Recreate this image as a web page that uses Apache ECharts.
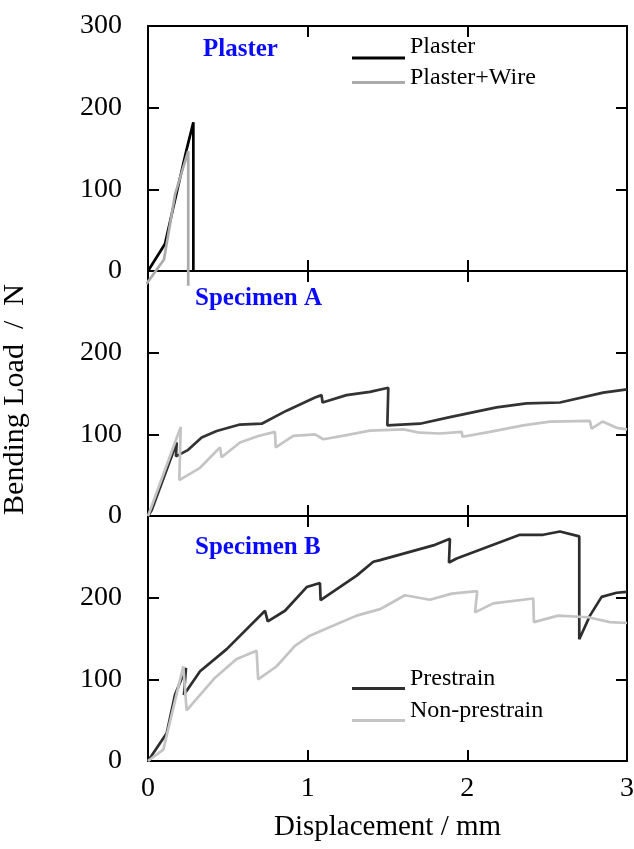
<!DOCTYPE html>
<html>
<head>
<meta charset="utf-8">
<script src="https://cdn.jsdelivr.net/npm/echarts@6/dist/echarts.min.js"></script>
<style>html,body{margin:0;padding:0;background:#fff}#c{width:634px;height:849px}</style>
</head>
<body>
<div id="c"></div>
<script>
// ---- data (x: displacement mm, y: bending load N) ----
const xTicks = [0, 1, 2, 3];
const yTicks = [0, 100, 200, 300];
const panelTitles = ['Plaster', 'Specimen A', 'Specimen B'];

const plaster = [[0,0],[0.106,33],[0.242,149],[0.284,182],[0.284,0]];
const plasterWire = [[-0.01,-16],[0.1,14],[0.17,94],[0.252,147],[0.252,-18]];

const specA_pre = [[0,0],[0.023,7],[0.18,90],[0.175,73],[0.252,81],[0.336,96],[0.43,104],[0.576,112],[0.712,113],[0.868,129],[1.046,145],[1.087,148],[1.093,139],[1.243,148],[1.39,152],[1.505,157],[1.499,111],[1.703,113],[1.891,121],[2.183,133],[2.371,138],[2.58,139],[2.851,151],[3.0,155]];
const specA_non = [[0,0],[0.205,109],[0.196,44],[0.326,59],[0.451,84],[0.461,72],[0.576,90],[0.691,98],[0.795,103],[0.8,84],[0.91,98],[1.046,100],[1.098,94],[1.244,99],[1.39,104.6],[1.599,106],[1.703,102],[1.828,101],[1.964,103],[1.97,97],[2.141,103],[2.35,111],[2.517,115.6],[2.768,116.4],[2.778,107],[2.847,115.6],[2.935,108],[3.0,106]];

const specB_pre = [[0,0],[0.117,34],[0.169,81],[0.238,114],[0.225,81],[0.326,110],[0.493,137],[0.733,184],[0.75,171],[0.858,184],[0.994,213],[1.077,218],[1.081,197],[1.307,227],[1.411,244],[1.453,246],[1.787,264],[1.891,272],[1.885,243],[1.933,248],[2.329,277],[2.475,277],[2.58,281],[2.701,275],[2.701,149],[2.768,178],[2.841,201],[2.935,206],[3.0,207]];
const specB_non = [[0,0],[0.096,14],[0.221,116],[0.242,62],[0.42,102],[0.555,125],[0.68,135],[0.69,100],[0.806,116],[0.92,141],[1.014,153.5],[1.14,164],[1.307,178],[1.453,186],[1.473,188],[1.609,203],[1.766,197.5],[1.902,205],[2.062,208],[2.048,182],[2.162,193],[2.413,199],[2.417,170],[2.569,178],[2.757,176],[2.893,170],[3.0,169]];

// ---- layout ----
const FONT = 'Liberation Serif';
const grids = [
  {left:148, right:7, top:26, height:245, outerBoundsMode:'none', containLabel:false},
  {left:148, right:7, top:271, height:245, outerBoundsMode:'none', containLabel:false},
  {left:148, right:7, top:516, height:245, outerBoundsMode:'none', containLabel:false}
];
const axLine = {show:true, onZero:false, lineStyle:{color:'#000', width:2}};
const axTick = {show:true, inside:true, length:11, lineStyle:{color:'#000', width:2}};

const xAxes = [], yAxes = [];
grids.forEach((g, i) => {
  const isBottom = i === 2;
  xAxes.push({
    type:'value', gridIndex:i, position:'bottom', min:xTicks[0], max:xTicks[xTicks.length-1], interval:1,
    axisLine:axLine, axisTick:axTick, splitLine:{show:false},
    axisLabel:{show:isBottom, fontFamily:FONT, fontSize:28, color:'#000', margin:14},
    name: isBottom ? 'Displacement / mm' : '', nameLocation:'middle', nameGap:52,
    nameTextStyle:{fontFamily:FONT, fontSize:29, color:'#000'}
  });
  xAxes.push({
    type:'value', gridIndex:i, position:'top', min:0, max:3, interval:1,
    axisLine:axLine, axisTick:axTick, splitLine:{show:false}, axisLabel:{show:false}
  });
  yAxes.push({
    type:'value', gridIndex:i, position:'left', min:yTicks[0], max:yTicks[yTicks.length-1], interval:100,
    axisLine:axLine, axisTick:axTick, splitLine:{show:false},
    axisLabel:{fontFamily:FONT, fontSize:28, color:'#000', margin:26, showMaxLabel: i === 0},
    name: i === 1 ? 'Bending Load  /  N' : '', nameLocation:'middle', nameGap:118,
    nameTextStyle:{fontFamily:FONT, fontSize:30, color:'#000', padding:[0,12,0,0]}
  });
  yAxes.push({
    type:'value', gridIndex:i, position:'right', min:0, max:300, interval:100,
    axisLine:axLine, axisTick:axTick, splitLine:{show:false}, axisLabel:{show:false}
  });
});

function mk(name, data, gi, color, clip) {
  return {
    name, type:'line', data, xAxisIndex:gi*2, yAxisIndex:gi*2, showSymbol:false, symbol:'none',
    clip: clip, animation:false,
    lineStyle:{color, width:2.7}, itemStyle:{color}
  };
}
const series = [
  mk('Plaster', plaster, 0, '#000000', true),
  mk('Plaster+Wire', plasterWire, 0, '#ababab', false),
  mk('Specimen A prestrain', specA_pre, 1, '#333333', true),
  mk('Specimen A non-prestrain', specA_non, 1, '#c4c4c4', true),
  mk('Prestrain', specB_pre, 2, '#2e2e2e', true),
  mk('Non-prestrain', specB_non, 2, '#c4c4c4', true)
];

// legend item: line drawn at bottom of an icon box so the label sits above-right of it
function leg(name, lineY, d) {
  const H = 2 * d + 3;
  const textHalf = 13.5;
  const shift = Math.max(0, textHalf - H / 2);
  return {
    data:[name], left:352, top:lineY - (H - 1.5) - shift, padding:0, itemGap:0, itemWidth:53, itemHeight:H,
    icon:'path://M0,0M0,' + (H - 3) + 'L53,' + (H - 3) + 'L53,' + H + 'L0,' + H + 'Z',
    selectedMode:false,
    textStyle:{fontFamily:FONT, fontSize:24, color:'#000'}
  };
}

const titlePos = [[203,49],[195,298],[195,547]];
const graphic = panelTitles.map((t, i) => ({
  type:'text', left:titlePos[i][0], top:titlePos[i][1]-12,
  style:{text:t, font:'bold 25px "' + FONT + '"', fill:'#0a0aff'}
}));

const chart = echarts.init(document.getElementById('c'), null, {renderer:'canvas'});
chart.setOption({
  animation:false,
  backgroundColor:'#fff',
  grid:grids,
  xAxis:xAxes,
  yAxis:yAxes,
  legend:[leg('Plaster',59,11), leg('Plaster+Wire',84,5), leg('Prestrain',690,10), leg('Non-prestrain',722,10)],
  graphic,
  series
});
</script>
</body>
</html>
